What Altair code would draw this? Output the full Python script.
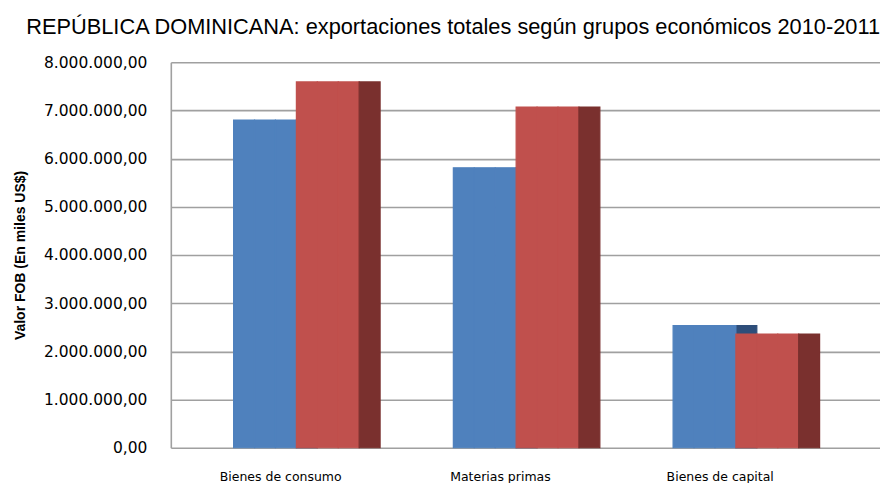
import altair as alt
import pandas as pd

categories = ["Bienes de consumo", "Materias primas", "Bienes de capital"]
values_2010 = [6800000, 5810000, 2535000]
values_2011 = [7590000, 7070000, 2360000]
y_ticks = [0, 1000000, 2000000, 3000000, 4000000, 5000000, 6000000, 7000000, 8000000]

title_text = "REPÚBLICA DOMINICANA: exportaciones totales según grupos económicos 2010-2011"
y_title = "Valor FOB  (En miles US$)"

# depth slots of the pseudo-3D group: front faces of 2010 and 2011 and the side face
slots = ["e0", "e1", "e2", "b0", "b1", "b2", "r0", "r1", "r2", "s"]


def table(values, slot_list):
    rows = []
    for c, v in zip(categories, values):
        for s in slot_list:
            rows.append({"cat": c, "slot": s, "value": v})
    return pd.DataFrame(rows)


label_expr = "datum.value == 0 ? '0,00' : format(datum.value / 1000000, 'd') + '.000.000,00'"

x_enc = alt.X("cat:N", sort=categories, title=None,
              scale=alt.Scale(paddingInner=0, paddingOuter=0.1136, align=0),
              axis=alt.Axis(labelAngle=0, ticks=False, domain=False, labelPadding=23,
                            labelFontSize=12.5, labelColor="#000000", labelFont="DejaVu Sans"))

y_axis = alt.Axis(values=y_ticks, labelExpr=label_expr, ticks=False,
                  labelPadding=24, labelFontSize=15.5, labelColor="#000000",
                  labelFont="DejaVu Sans",
                  titleFontSize=14, titleFontWeight="bold", titleColor="#000000",
                  titleFont="Liberation Sans", titlePadding=16,
                  grid=True, gridColor="#A0A0A0", gridWidth=1.6,
                  domainColor="#A0A0A0", domainWidth=1.6)
y_scale = alt.Scale(domain=[0, 8000000], nice=False)
off_scale = alt.Scale(domain=slots, paddingInner=0, paddingOuter=0.25, align=0)


def layer(values, slot_list, color):
    return alt.Chart(table(values, slot_list)).mark_bar(
        color=color, stroke=color, strokeWidth=1.2
    ).encode(
        x=x_enc,
        xOffset=alt.XOffset("slot:N", scale=off_scale),
        y=alt.Y("value:Q", title=y_title, scale=y_scale, axis=y_axis),
    )


chart = alt.layer(
    layer(values_2010, ["r0"], "#2E4E7A"),
    layer(values_2010, ["b0", "b1", "b2"], "#4F81BD"),
    layer(values_2011, ["r0", "r1", "r2"], "#C0504D"),
    layer(values_2011, ["s"], "#7A302E"),
).properties(
    width=710,
    height=386,
    padding={"left": 5, "top": 9, "right": 0, "bottom": 0},
    title=alt.Title(title_text, fontSize=21.8, font="Liberation Sans", fontWeight="normal",
                    color="#000000", anchor="end", offset=16),
).configure_view(stroke=None)

chart.save("out.html", embed_options={"renderer": "svg", "actions": False})
